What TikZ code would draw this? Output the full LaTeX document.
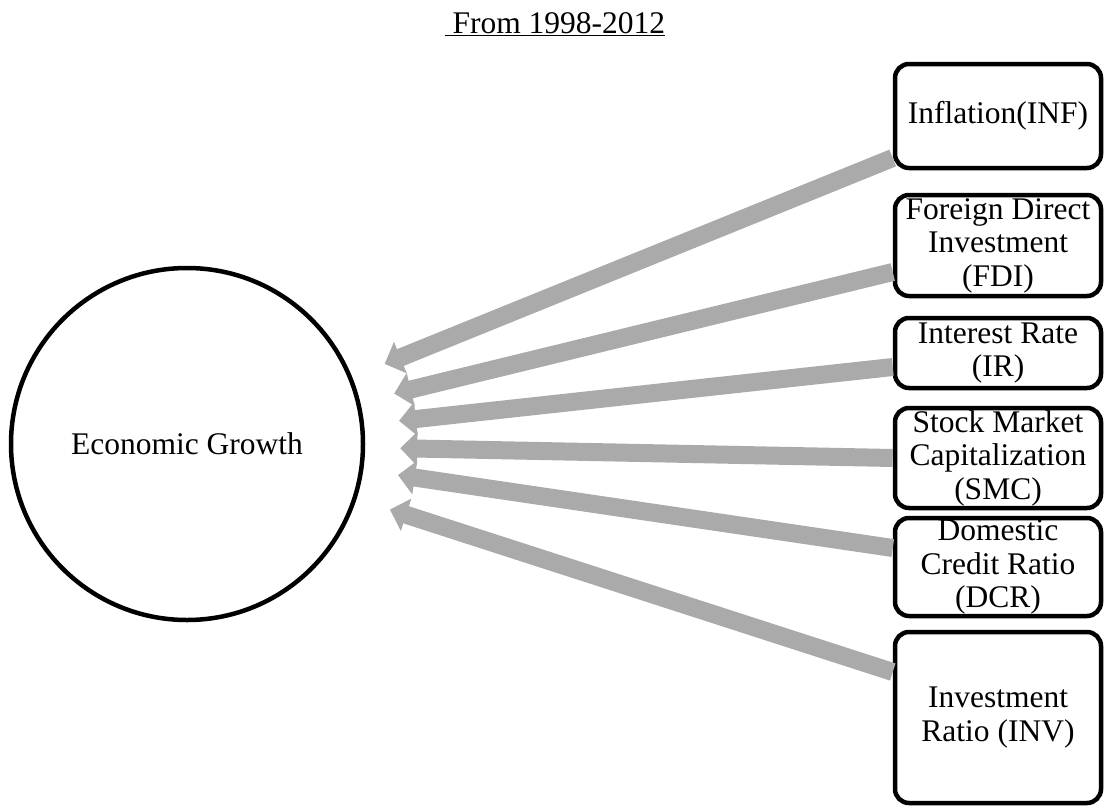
\documentclass[tikz,border=0pt]{standalone}
\usepackage{fontspec}
\setmainfont{Liberation Serif}
\usetikzlibrary{arrows.meta}
\definecolor{arrowgray}{RGB}{170,170,170}

\begin{document}
\begin{tikzpicture}[
        x=1pt, y=-1pt,
        font=\fontsize{31.5}{33.5}\selectfont,
        growth/.style={circle,draw,line width=4.5pt,minimum size=352pt,inner sep=0pt},
        factor/.style={rectangle,draw,rounded corners=14pt,line width=4.5pt,minimum width=206pt,minimum height=#1,inner sep=0pt,align=center},
        impact/.style={draw=arrowgray,line width=18pt,-{Triangle[width=33pt,length=17pt]},shorten >=35pt}
    ]
        \useasboundingbox (0,0) rectangle (1105,806);

        \node [anchor=base] (title) at (555,33) {\underline{\ From 1998-2012}};

        \node [growth] (eg) at (187,444) {Economic Growth};

        \node [factor=104pt]   (inf) at (998,116)   {Inflation(INF)};
        \node [factor=101pt]   (fdi) at (998,245.5) {Foreign Direct\\Investment\\(FDI)};
        \node [factor=70pt]    (ir)  at (998,353)   {Interest Rate\\(IR)};
        \node [factor=100pt]   (smc) at (998,458)   {Stock Market\\Capitalization\\(SMC)};
        \node [factor=98pt]    (dcr) at (998,567)   {Domestic\\Credit Ratio\\(DCR)};
        \node [factor=171pt]   (inv) at (998,717.5) {Investment\\Ratio (INV)};

        \draw [impact] ([yshift=-42pt]inf.west)   -- (eg);
        \draw [impact] ([yshift=-26.5pt]fdi.west) -- (eg);
        \draw [impact] ([yshift=-14pt]ir.west)    -- (eg);
        \draw [impact] (smc.west)                 -- (eg);
        \draw [impact] ([yshift=19pt]dcr.west)    -- (eg);
        \draw [impact] ([yshift=45.5pt]inv.west)  -- (eg);
    \end{tikzpicture}
\end{document}
